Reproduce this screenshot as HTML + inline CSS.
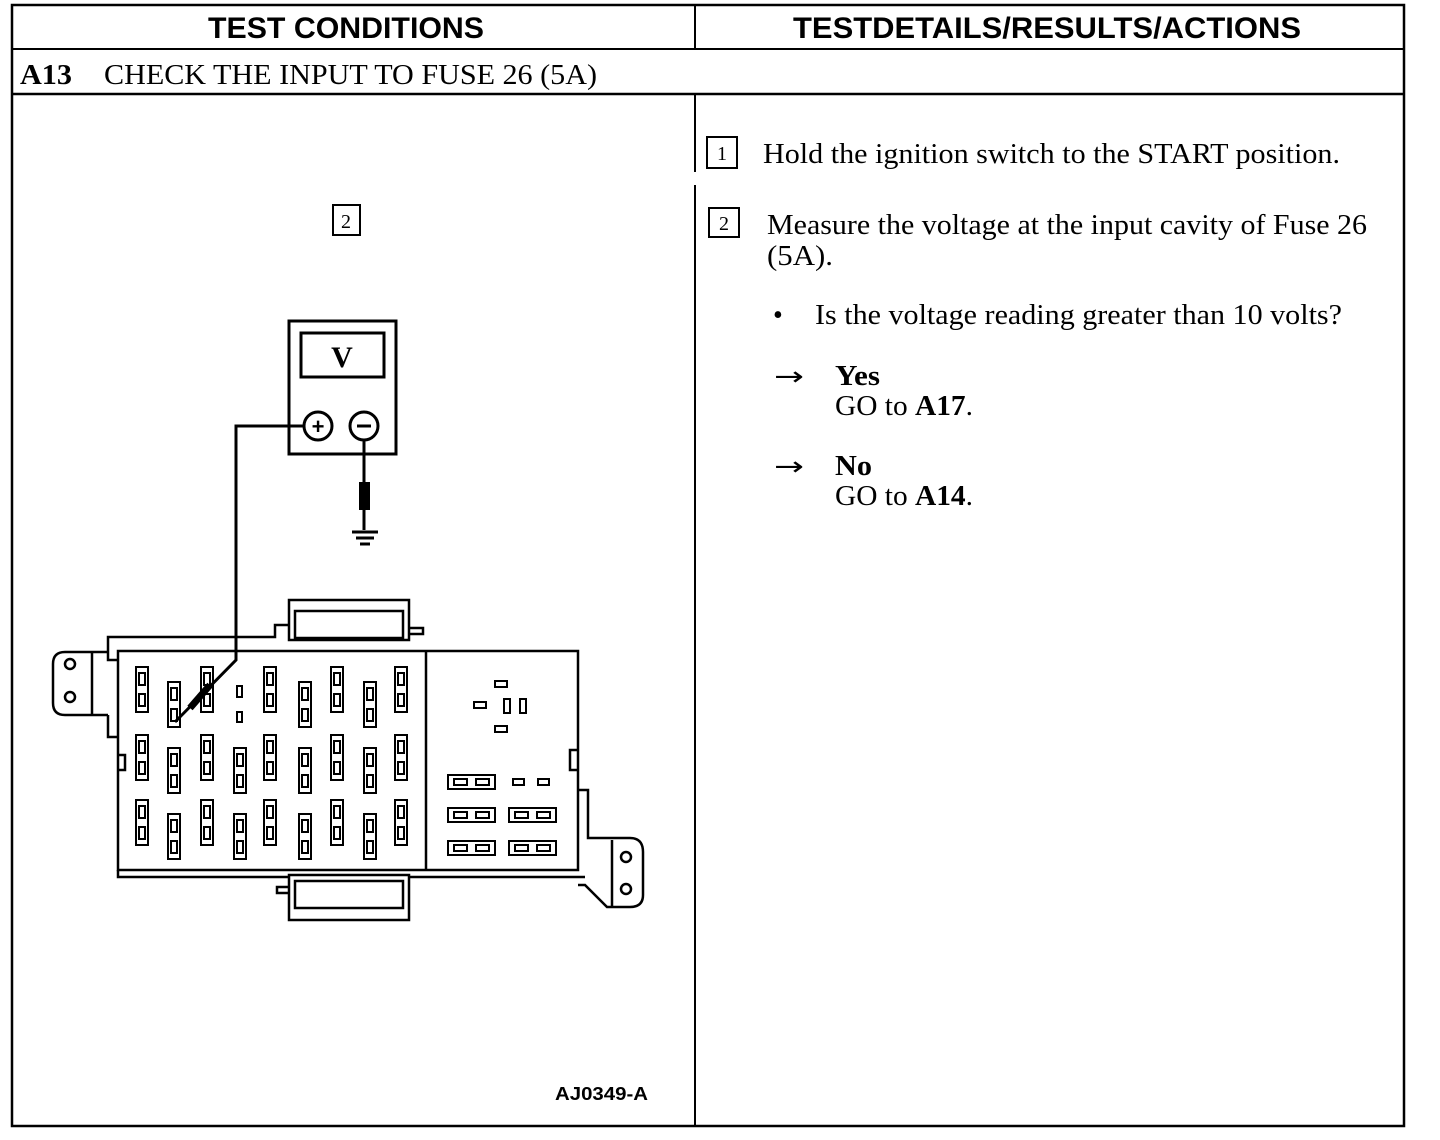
<!DOCTYPE html>
<html><head><meta charset="utf-8"><style>html,body{margin:0;padding:0;background:#fff}svg{display:block}</style></head>
<body>
<svg width="1440" height="1140" viewBox="0 0 1440 1140" xmlns="http://www.w3.org/2000/svg">
<defs><g id="fz" fill="none" stroke="#000" stroke-width="2"><rect x="0" y="0" width="12" height="45"/><rect x="3" y="6" width="6" height="12"/><rect x="3" y="27" width="6" height="12"/></g>
<g id="sf" fill="none" stroke="#000" stroke-width="2"><rect x="0" y="0" width="47" height="14"/><rect x="6" y="4" width="13" height="6"/><rect x="28" y="4" width="13" height="6"/></g></defs>
<g fill="none" stroke="#000">
<rect x="12" y="5" width="1392" height="1121" stroke-width="2.5"/>
<line x1="12" y1="49" x2="1404" y2="49" stroke-width="2"/>
<line x1="12" y1="94" x2="1404" y2="94" stroke-width="2.5"/>
<line x1="695" y1="5" x2="695" y2="49" stroke-width="2"/>
<line x1="695" y1="94" x2="695" y2="172" stroke-width="2"/>
<line x1="695" y1="185" x2="695" y2="1126" stroke-width="2"/>
</g>
<g font-family="Liberation Sans, sans-serif" font-weight="bold" font-size="30">
<text x="208" y="38" textLength="276" lengthAdjust="spacingAndGlyphs">TEST CONDITIONS</text>
<text x="793" y="38" textLength="508" lengthAdjust="spacingAndGlyphs">TESTDETAILS/RESULTS/ACTIONS</text>
</g>
<g font-family="Liberation Serif, serif" font-size="28">
<text x="20" y="84" font-weight="bold" textLength="52" lengthAdjust="spacingAndGlyphs">A13</text>
<text x="104" y="84" textLength="493" lengthAdjust="spacingAndGlyphs">CHECK THE INPUT TO FUSE 26 (5A)</text>
<text x="763" y="163" textLength="577" lengthAdjust="spacingAndGlyphs">Hold the ignition switch to the START position.</text>
<text x="767" y="234" textLength="600" lengthAdjust="spacingAndGlyphs">Measure the voltage at the input cavity of Fuse 26</text>
<text x="767" y="265" textLength="66" lengthAdjust="spacingAndGlyphs">(5A).</text>
<text x="773" y="324">•</text>
<text x="815" y="324" textLength="527" lengthAdjust="spacingAndGlyphs">Is the voltage reading greater than 10 volts?</text>
<text x="835" y="385" font-weight="bold" textLength="45" lengthAdjust="spacingAndGlyphs">Yes</text>
<text x="835" y="415" textLength="138" lengthAdjust="spacingAndGlyphs">GO to <tspan font-weight="bold">A17</tspan>.</text>
<text x="835" y="475" font-weight="bold" textLength="37" lengthAdjust="spacingAndGlyphs">No</text>
<text x="835" y="505" textLength="138" lengthAdjust="spacingAndGlyphs">GO to <tspan font-weight="bold">A14</tspan>.</text>
</g>
<g font-family="DejaVu Sans, sans-serif" font-size="26">
<text x="774" y="385" textLength="30" lengthAdjust="spacingAndGlyphs">→</text>
<text x="774" y="475" textLength="30" lengthAdjust="spacingAndGlyphs">→</text>
</g>
<g fill="none" stroke="#000" stroke-width="2">
<rect x="707" y="137" width="30" height="31"/>
<rect x="709" y="208" width="30" height="29"/>
<rect x="333" y="205" width="27" height="30"/>
</g>
<g font-family="Liberation Serif, serif" font-size="20" text-anchor="middle">
<text x="722" y="160">1</text><text x="724" y="230">2</text><text x="346" y="228">2</text>
</g>
<text x="555" y="1100" font-family="Liberation Sans, sans-serif" font-weight="bold" font-size="18" textLength="93" lengthAdjust="spacingAndGlyphs">AJ0349-A</text>

<g fill="none" stroke="#000" stroke-width="3">
<rect x="289" y="321" width="107" height="133"/>
<rect x="301" y="333" width="83" height="44"/>
<circle cx="318" cy="426" r="14"/>
<circle cx="364" cy="426" r="14"/>
<polyline points="304,426 236,426 236,660 175,722"/>
<line x1="364" y1="440" x2="364" y2="530"/>
<line x1="352" y1="532" x2="378" y2="532"/>
<line x1="356" y1="538" x2="374" y2="538"/>
<line x1="360" y1="544" x2="370" y2="544"/>
</g>
<rect x="359" y="482" width="11" height="28" fill="#000"/>
<line x1="190" y1="708" x2="210" y2="685" stroke="#000" stroke-width="7"/>
<text x="342" y="367" font-family="Liberation Serif, serif" font-weight="bold" font-size="30" text-anchor="middle">V</text>
<text x="318" y="434" font-family="Liberation Sans, sans-serif" font-weight="bold" font-size="22" text-anchor="middle">+</text>
<line x1="357" y1="426" x2="371" y2="426" stroke="#000" stroke-width="3"/>

<g fill="none" stroke="#000" stroke-width="2.5">
<rect x="118" y="651" width="460" height="219"/>
<line x1="426" y1="651" x2="426" y2="870"/>
<polyline points="118,660 108,660 108,637 275,637 275,625 289,625"/>
<rect x="289" y="600" width="120" height="40"/>
<rect x="295" y="611" width="108" height="27"/>
<polyline points="409,628 423,628 423,634 409,634"/>
<path d="M108,652 H65 Q53,652 53,664 V703 Q53,715 65,715 H108"/>
<line x1="92" y1="652" x2="92" y2="715"/>
<circle cx="70" cy="664" r="5"/><circle cx="70" cy="697" r="5"/>
<polyline points="108,715 108,737 118,737"/>
<path d="M578,790 H588 V838 H630 Q643,838 643,852 V895 Q643,907 630,907 H607 L585,885 H578"/>
<line x1="612" y1="840" x2="612" y2="907"/>
<circle cx="626" cy="857" r="5"/><circle cx="626" cy="889" r="5"/>
<polyline points="118,870 118,877 289,877"/>
<rect x="289" y="875" width="120" height="45"/>
<rect x="295" y="881" width="108" height="27"/>
<polyline points="289,887 277,887 277,893 289,893"/>
<line x1="409" y1="877" x2="585" y2="877"/>
<polyline points="578,750 570,750 570,770 578,770"/>
<polyline points="118,755 125,755 125,770 118,770"/>
</g>
<use href="#fz" x="136" y="667"/><use href="#fz" x="136" y="735"/><use href="#fz" x="136" y="800"/>
<use href="#fz" x="168" y="682"/><use href="#fz" x="168" y="748"/><use href="#fz" x="168" y="814"/>
<use href="#fz" x="201" y="667"/><use href="#fz" x="201" y="735"/><use href="#fz" x="201" y="800"/>
<use href="#fz" x="234" y="748"/><use href="#fz" x="234" y="814"/>
<use href="#fz" x="264" y="667"/><use href="#fz" x="264" y="735"/><use href="#fz" x="264" y="800"/>
<use href="#fz" x="299" y="682"/><use href="#fz" x="299" y="748"/><use href="#fz" x="299" y="814"/>
<use href="#fz" x="331" y="667"/><use href="#fz" x="331" y="735"/><use href="#fz" x="331" y="800"/>
<use href="#fz" x="364" y="682"/><use href="#fz" x="364" y="748"/><use href="#fz" x="364" y="814"/>
<use href="#fz" x="395" y="667"/><use href="#fz" x="395" y="735"/><use href="#fz" x="395" y="800"/>
<g fill="none" stroke="#000" stroke-width="2">
<rect x="237" y="686" width="5" height="11"/><rect x="237" y="712" width="5" height="10"/>
<rect x="495" y="681" width="12" height="6"/><rect x="474" y="702" width="12" height="6"/>
<rect x="504" y="699" width="6" height="14"/><rect x="520" y="699" width="6" height="14"/>
<rect x="495" y="726" width="12" height="6"/>
<rect x="513" y="779" width="11" height="6"/><rect x="538" y="779" width="11" height="6"/>
</g>
<use href="#sf" x="448" y="775"/><use href="#sf" x="448" y="808"/><use href="#sf" x="509" y="808"/>
<use href="#sf" x="448" y="841"/><use href="#sf" x="509" y="841"/>
</svg>
</body></html>
